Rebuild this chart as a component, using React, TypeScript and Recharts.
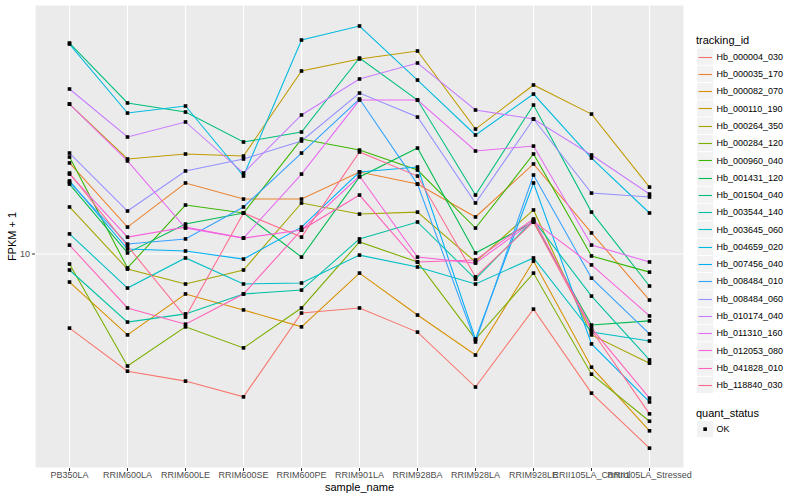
import React from 'react';
import { LineChart, Line, XAxis, YAxis, CartesianGrid } from 'recharts';

const samples = [
  'PB350LA', 'RRIM600LA', 'RRIM600LE', 'RRIM600SE', 'RRIM600PE', 'RRIM901LA',
  'RRIM928BA', 'RRIM928LA', 'RRIM928LE', 'RRII105LA_Control', 'RRII105LA_Stressed',
];

const trackingIds = [
  'Hb_000004_030', 'Hb_000035_170', 'Hb_000082_070', 'Hb_000110_190', 'Hb_000264_350',
  'Hb_000284_120', 'Hb_000960_040', 'Hb_001431_120', 'Hb_001504_040', 'Hb_003544_140',
  'Hb_003645_060', 'Hb_004659_020', 'Hb_007456_040', 'Hb_008484_010', 'Hb_008484_060',
  'Hb_010174_040', 'Hb_011310_160', 'Hb_012053_080', 'Hb_041828_010', 'Hb_118840_030',
];

const seriesColors = [
  '#F8766D', '#EA8331', '#D89000', '#C09B00', '#A3A500', '#7CAE00', '#39B600', '#00BB4E',
  '#00BF7D', '#00C1A3', '#00BFC4', '#00BAE0', '#00B0F6', '#35A2FF', '#9590FF', '#C77CFF',
  '#E76BF3', '#FA62DB', '#FF62BC', '#FF6C91',
];

const hb_000004_030 = [7.11, 5.83, 5.57, 5.18, 7.62, 7.80, 6.98, 5.42, 7.76, 5.27, 4.09];
const hb_000035_170 = [15.21, 11.32, 13.87, 12.88, 12.88, 14.59, 13.80, 11.86, 15.14, 11.02, 8.09];
const hb_000082_070 = [8.79, 6.89, 8.32, 7.73, 7.15, 9.16, 7.55, 6.28, 9.68, 5.94, 4.43];
const hb_000110_190 = [19.95, 15.49, 15.85, 15.70, 23.23, 24.55, 25.47, 17.78, 21.78, 19.05, 13.61];
const hb_000264_350 = [12.42, 9.33, 8.71, 9.29, 12.65, 12.02, 12.13, 9.64, 12.25, 6.89, 6.05];
const hb_000284_120 = [9.55, 5.97, 7.15, 6.49, 7.80, 10.57, 9.64, 6.76, 9.16, 5.75, 4.63];
const hb_000960_040 = [15.63, 9.38, 12.53, 12.08, 16.98, 16.14, 14.72, 11.27, 15.85, 9.91, 9.20];
const hb_001431_120 = [13.80, 10.05, 11.48, 12.08, 9.86, 14.26, 16.29, 10.05, 11.59, 7.21, 7.35];
const hb_001504_040 = [26.42, 20.05, 19.23, 16.75, 17.54, 24.66, 20.32, 13.12, 19.86, 12.13, 8.63];
const hb_003544_140 = [9.29, 7.31, 7.59, 8.32, 8.47, 10.72, 11.59, 8.91, 11.70, 8.24, 6.14];
const hb_003645_060 = [10.97, 8.55, 9.82, 8.71, 8.75, 9.95, 9.42, 8.71, 9.82, 6.98, 6.70];
const hb_004659_020 = [26.30, 19.14, 19.77, 14.32, 26.79, 28.58, 22.28, 17.30, 20.89, 15.56, 12.08];
const hb_007456_040 = [14.00, 10.23, 10.14, 9.77, 11.32, 14.59, 14.93, 6.76, 13.87, 6.61, 5.06];
const hb_008484_010 = [13.93, 10.47, 10.72, 12.42, 15.92, 20.42, 13.80, 6.67, 14.39, 8.95, 6.92];
const hb_008484_060 = [15.92, 12.19, 14.66, 15.49, 16.83, 20.99, 18.79, 12.65, 18.62, 13.24, 13.00];
const hb_010174_040 = [21.38, 17.14, 18.37, 14.52, 18.97, 22.39, 24.10, 19.41, 18.62, 15.78, 13.18];
const hb_011310_160 = [19.95, 15.35, 11.27, 10.76, 14.45, 20.32, 20.32, 16.07, 16.44, 10.42, 9.64];
const hb_012053_080 = [14.45, 10.81, 11.32, 10.76, 11.17, 14.32, 9.86, 9.59, 11.64, 9.51, 7.52];
const hb_041828_010 = [10.42, 7.80, 7.24, 8.32, 11.17, 13.12, 9.64, 9.73, 11.75, 7.11, 5.15];
const hb_118840_030 = [14.52, 10.38, 7.48, 12.08, 10.81, 16.00, 14.32, 9.00, 11.59, 7.05, 4.79];

const seriesValues = [
  hb_000004_030, hb_000035_170, hb_000082_070, hb_000110_190, hb_000264_350,
  hb_000284_120, hb_000960_040, hb_001431_120, hb_001504_040, hb_003544_140,
  hb_003645_060, hb_004659_020, hb_007456_040, hb_008484_010, hb_008484_060,
  hb_010174_040, hb_011310_160, hb_012053_080, hb_041828_010, hb_118840_030,
];

const yTicks = [10];
const yDomain = [3.733, 31.48];
const quantStatus = ['OK'];

const data = samples.map((s, i) => {
  const row: Record<string, any> = { sample: s };
  trackingIds.forEach((id, k) => {
    row[id] = seriesValues[k][i];
  });
  return row;
});

const FONT = '"Liberation Sans", Arial, Helvetica, sans-serif';

const SquareDot = (props: any) => {
  const { cx, cy, index, dataKey } = props;
  if (cx == null || cy == null) return <g key={`e-${dataKey}-${index}`} />;
  return (
    <rect
      key={`d-${dataKey}-${index}`}
      x={cx - 1.8}
      y={cy - 1.8}
      width={3.6}
      height={3.6}
      fill="#000000"
    />
  );
};

const KEY = 17.28;

function LegendBlock() {
  const top0 = 48;
  return (
    <svg
      width={800}
      height={500}
      style={{ position: 'absolute', left: 0, top: 0, pointerEvents: 'none' }}
      fontFamily={FONT}
    >
      <text x={696} y={44} fontSize={11} fill="#000">tracking_id</text>
      {trackingIds.map((id, i) => {
        const t = top0 + i * KEY;
        const ly = Math.round(t + KEY / 2) + 0.5;
        return (
          <g key={id}>
            <rect x={697} y={t + 0.5} width={KEY - 1} height={KEY - 1} fill="#F2F2F2" />
            <line x1={698.5} x2={712} y1={ly} y2={ly} stroke={seriesColors[i]} strokeWidth={1.1} />
            <text x={716.5} y={t + KEY / 2 + 3.2} fontSize={9} fill="#000">{id}</text>
          </g>
        );
      })}
      <text x={696} y={417} fontSize={11} fill="#000">quant_status</text>
      {quantStatus.map((q, i) => {
        const t = 420.5 + i * KEY;
        return (
          <g key={q}>
            <rect x={697} y={t + 0.5} width={KEY - 1} height={KEY - 1} fill="#F2F2F2" />
            <rect x={697 + (KEY - 1) / 2 - 1.8} y={t + KEY / 2 - 1.8} width={3.6} height={3.6} fill="#000" />
            <text x={716.5} y={t + KEY / 2 + 3.2} fontSize={9} fill="#000">{q}</text>
          </g>
        );
      })}
    </svg>
  );
}

export default function App() {
  return (
    <div style={{ position: 'absolute', left: 0, top: 0, width: 800, height: 500, background: '#FFFFFF', fontFamily: FONT }}>
      <LineChart width={800} height={500} data={data} margin={{ top: 5, right: 116, bottom: 0, left: 0 }}>
        <CartesianGrid stroke="#FFFFFF" strokeWidth={1.1} fill="#EBEBEB" fillOpacity={1} />
        <XAxis
          dataKey="sample"
          type="category"
          scale="point"
          padding={{ left: 34.5, right: 34.5 }}
          interval={0}
          height={32}
          axisLine={false}
          tickLine={{ stroke: '#333333' }}
          tickSize={3}
          tickMargin={1}
          tick={{ fontSize: 9, fill: '#4D4D4D', fontFamily: FONT }}
          label={{ value: 'sample_name', position: 'insideBottom', offset: 9, style: { fontSize: 11, fill: '#000', fontFamily: FONT } }}
        />
        <YAxis
          type="number"
          scale="log"
          domain={yDomain}
          allowDataOverflow
          ticks={yTicks}
          tickFormatter={(v: number) => String(v)}
          width={35}
          axisLine={false}
          tickLine={{ stroke: '#333333' }}
          tickSize={3}
          tickMargin={2}
          tick={{ fontSize: 9, fill: '#4D4D4D', fontFamily: FONT }}
          label={{ value: 'FPKM + 1', angle: -90, position: 'insideLeft', offset: 12, style: { fontSize: 11, fill: '#000', textAnchor: 'middle', fontFamily: FONT } }}
        />
        {trackingIds.map((id, k) => (
          <Line
            key={id}
            type="linear"
            dataKey={id}
            stroke={seriesColors[k]}
            strokeWidth={1.07}
            dot={false}
            activeDot={false}
            isAnimationActive={false}
          />
        ))}
        {trackingIds.map((id) => (
          <Line
            key={`pts-${id}`}
            type="linear"
            dataKey={id}
            stroke="none"
            strokeOpacity={0}
            dot={SquareDot}
            activeDot={false}
            legendType="none"
            isAnimationActive={false}
          />
        ))}
      </LineChart>
      <LegendBlock />
    </div>
  );
}
